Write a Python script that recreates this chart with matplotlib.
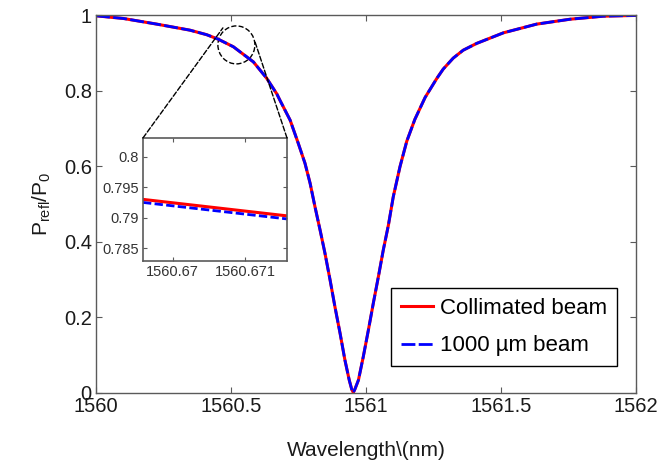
import matplotlib
matplotlib.use("Agg")
import matplotlib.pyplot as plt
from matplotlib.patches import Ellipse, ConnectionPatch

plt.rcParams['font.family'] = ['Liberation Sans', 'DejaVu Sans']
plt.rcParams['mathtext.default'] = 'regular'

# reflectance dip
wavelength = [1560.000, 1560.101, 1560.225, 1560.348, 1560.410, 1560.453, 1560.509,
              1560.533, 1560.583, 1560.632, 1560.670, 1560.681, 1560.719, 1560.749,
              1560.774, 1560.793, 1560.811, 1560.830, 1560.848, 1560.867, 1560.885,
              1560.904, 1560.922, 1560.938, 1560.947, 1560.953, 1560.959, 1560.972,
              1560.990, 1561.009, 1561.027, 1561.046, 1561.064, 1561.083, 1561.101,
              1561.126, 1561.151, 1561.181, 1561.219, 1561.262, 1561.286, 1561.323,
              1561.360, 1561.410, 1561.509, 1561.632, 1561.756, 1561.879, 1562.000]
r_collimated = [0.998, 0.991, 0.976, 0.960, 0.948, 0.936, 0.916,
                0.903, 0.876, 0.833, 0.791, 0.775, 0.722, 0.661,
                0.608, 0.555, 0.493, 0.431, 0.370, 0.299, 0.228,
                0.158, 0.087, 0.034, 0.010, 0.001, 0.010, 0.034,
                0.096, 0.167, 0.237, 0.308, 0.378, 0.444, 0.519,
                0.599, 0.666, 0.724, 0.782, 0.832, 0.857, 0.886,
                0.907, 0.925, 0.953, 0.976, 0.989, 0.997, 0.999]
# the two curves overlap at full scale
r_1000um = list(r_collimated)

# zoomed window
wl_zoom = [1560.66959, 1560.67158]
r_col_zoom = [0.7930, 0.7903]
r_1000_zoom = [0.7925, 0.7898]

xticks = [1560, 1560.5, 1561, 1561.5, 1562]
xticklabels = ['1560', '1560.5', '1561', '1561.5', '1562']
yticks = [0, 0.2, 0.4, 0.6, 0.8, 1]
yticklabels = ['0', '0.2', '0.4', '0.6', '0.8', '1']
zoom_xticks = [1560.67, 1560.671]
zoom_xticklabels = ['1560.67', '1560.671']
zoom_yticks = [0.785, 0.79, 0.795, 0.8]
zoom_yticklabels = ['0.785', '0.79', '0.795', '0.8']

spine_col = '#5a5a5a'
text_col = '#1a1a1a'

fig = plt.figure(figsize=(6.62, 4.66), dpi=100)
ax = fig.add_axes([0.145, 0.1567, 0.8157, 0.811])

ax.plot(wavelength, r_collimated, color='red', lw=2.2, label='Collimated beam')
ax.plot(wavelength, r_1000um, color='blue', lw=2.0, dashes=(5, 1.2), label='1000 µm beam')

ax.set_xlim(1560, 1562)
ax.set_ylim(0, 1)
ax.set_xticks(xticks)
ax.set_xticklabels(xticklabels)
ax.set_yticks(yticks)
ax.set_yticklabels(yticklabels)
ax.tick_params(direction='in', length=4, width=0.8, top=True, right=True,
               labelsize=14.5, colors=spine_col, labelcolor=text_col, pad=3)
for s in ax.spines.values():
    s.set_color(spine_col)
    s.set_linewidth(1.0)

ax.set_xlabel('Wavelength\\(nm)', fontsize=15, color=text_col, labelpad=18)
ax.set_ylabel('P$_{refl}$/P$_0$', fontsize=15, color=text_col, labelpad=8)

leg = ax.legend(loc='center', bbox_to_anchor=(0.5426, 0.0635, 0.4265, 0.222),
                fontsize=16, frameon=True, fancybox=False, framealpha=1,
                edgecolor='black', handlelength=1.45, handletextpad=0.3,
                labelspacing=0.75, borderpad=0.45, borderaxespad=0)
leg.get_frame().set_linewidth(1.0)

# dashed ellipse marking the zoomed region
ell = Ellipse((1560.520, 0.921), 0.137, 0.1005, fill=False, ls='--',
              lw=1.0, color='black')
ax.add_patch(ell)

# inset
axin = fig.add_axes([0.216, 0.440, 0.2175, 0.264])
axin.plot(wl_zoom, r_col_zoom, color='red', lw=2.2)
axin.plot(wl_zoom, r_1000_zoom, color='blue', lw=2.0, dashes=(3, 1.2))
axin.set_xlim(wl_zoom[0], wl_zoom[1])
axin.set_ylim(0.78292, 0.80306)
axin.set_xticks(zoom_xticks)
axin.set_xticklabels(zoom_xticklabels)
axin.set_yticks(zoom_yticks)
axin.set_yticklabels(zoom_yticklabels)
axin.tick_params(direction='in', length=3, width=0.8, top=True, right=True,
                 labelsize=10.5, colors=spine_col, labelcolor='#333333', pad=3)
for s in axin.spines.values():
    s.set_color(spine_col)
    s.set_linewidth(1.2)

for xa, xy in [((0, 1), (1560.470, 0.966)), ((1, 1), (1560.589, 0.929))]:
    con = ConnectionPatch(xyA=xa, coordsA=axin.transAxes, xyB=xy, coordsB=ax.transData,
                          ls='--', lw=1.0, color='black')
    fig.add_artist(con)

fig.savefig('out.png', dpi=100)
